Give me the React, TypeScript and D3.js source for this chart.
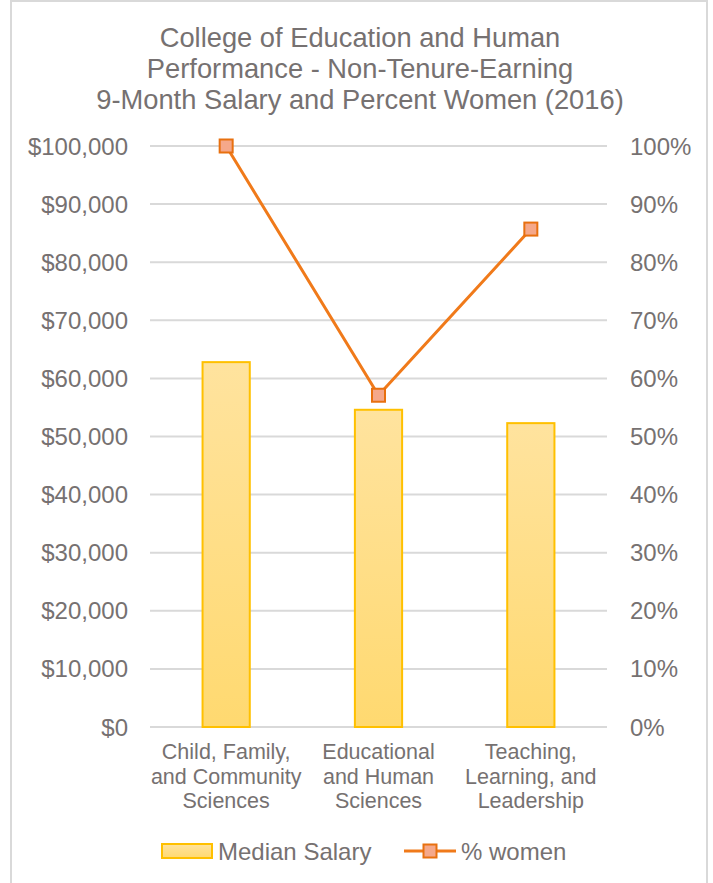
import React from "react";
import * as d3 from "d3";

const titleLines = [
  "College of Education and Human",
  "Performance - Non-Tenure-Earning",
  "9-Month Salary and Percent Women (2016)",
];
const categories = [
  ["Child, Family,", "and Community", "Sciences"],
  ["Educational", "and Human", "Sciences"],
  ["Teaching,", "Learning, and", "Leadership"],
];
const medianSalary = [62800, 54600, 52300];
const pctWomen = [1.0, 0.571, 0.857];
const leftTicks = [0, 10000, 20000, 30000, 40000, 50000, 60000, 70000, 80000, 90000, 100000];
const rightTicks = [0, 0.1, 0.2, 0.3, 0.4, 0.5, 0.6, 0.7, 0.8, 0.9, 1.0];
const seriesNames = ["Median Salary", "% women"];

const W = 713;
const H = 883;
const FONT = "'Liberation Sans', Arial, sans-serif";
const TXT = "#767171";

export default function App() {
  const left = 150, right = 607, top = 146, bottom = 727;
  const x = d3.scaleBand().domain(d3.range(categories.length).map(String)).range([left, right]).paddingInner(0.69).paddingOuter(0.345);
  const yL = d3.scaleLinear().domain([0, 100000]).range([bottom, top]);
  const yR = d3.scaleLinear().domain([0, 1]).range([bottom, top]);
  const fmtL = (v: number) => "$" + d3.format(",")(v);
  const fmtR = d3.format(".0%");
  const cx = (i: number) => (x(String(i)) as number) + x.bandwidth() / 2;
  const line = d3.line<number>().x((_, i) => cx(i)).y((d) => yR(d));
  const ms = 13;

  return (
    <svg width={W} height={H} style={{ position: "absolute", left: 0, top: 0 }}>
      <defs>
        <linearGradient id="barG" x1="0" y1="0" x2="0" y2="1">
          <stop offset="0%" stopColor="#FFE39E" />
          <stop offset="100%" stopColor="#FFD970" />
        </linearGradient>
      </defs>
      <rect x={0} y={0} width={W} height={H} fill="#fff" />
      <rect x={11} y={1} width={696} height={H + 5} fill="none" stroke="#D9D9D9" strokeWidth={2} />
      {titleLines.map((t, i) => (
        <text key={i} x={360} y={47 + i * 31} textAnchor="middle" fontFamily={FONT} fontSize={27.3} fill={TXT}>
          {t}
        </text>
      ))}
      {leftTicks.map((v) => (
        <line key={"g" + v} x1={left} x2={right} y1={yL(v)} y2={yL(v)} stroke="#D9D9D9" strokeWidth={2} />
      ))}
      {leftTicks.map((v) => (
        <text key={"l" + v} x={128} y={yL(v) + 8.5} textAnchor="end" fontFamily={FONT} fontSize={24} fill={TXT}>
          {fmtL(v)}
        </text>
      ))}
      {rightTicks.map((v) => (
        <text key={"r" + v} x={630} y={yR(v) + 8.5} textAnchor="start" fontFamily={FONT} fontSize={24} fill={TXT}>
          {fmtR(v)}
        </text>
      ))}
      {medianSalary.map((v, i) => (
        <rect
          key={"b" + i}
          x={x(String(i)) as number}
          y={yL(v)}
          width={x.bandwidth()}
          height={bottom - yL(v)}
          fill="url(#barG)"
          stroke="#FFC000"
          strokeWidth={2}
        />
      ))}
      <path d={line(pctWomen) || ""} fill="none" stroke="#F07A1A" strokeWidth={3} strokeLinejoin="round" />
      {pctWomen.map((v, i) => (
        <rect key={"m" + i} x={cx(i) - ms / 2} y={yR(v) - ms / 2} width={ms} height={ms} fill="#F5A88A" stroke="#E8700F" strokeWidth={2} />
      ))}
      {categories.map((lines, i) =>
        lines.map((t, j) => (
          <text key={"c" + i + j} x={cx(i)} y={759 + j * 24.5} textAnchor="middle" fontFamily={FONT} fontSize={21.5} fill={TXT}>
            {t}
          </text>
        ))
      )}
      <g>
        <rect x={162} y={844} width={50} height={14} fill="url(#barG)" stroke="#FFC000" strokeWidth={2} />
        <text x={218} y={860} fontFamily={FONT} fontSize={24} fill={TXT}>{seriesNames[0]}</text>
        <line x1={404} x2={456} y1={851} y2={851} stroke="#F07A1A" strokeWidth={3} />
        <rect x={430 - ms / 2} y={851 - ms / 2} width={ms} height={ms} fill="#F5A88A" stroke="#E8700F" strokeWidth={2} />
        <text x={461} y={860} fontFamily={FONT} fontSize={24} fill={TXT}>{seriesNames[1]}</text>
      </g>
    </svg>
  );
}
